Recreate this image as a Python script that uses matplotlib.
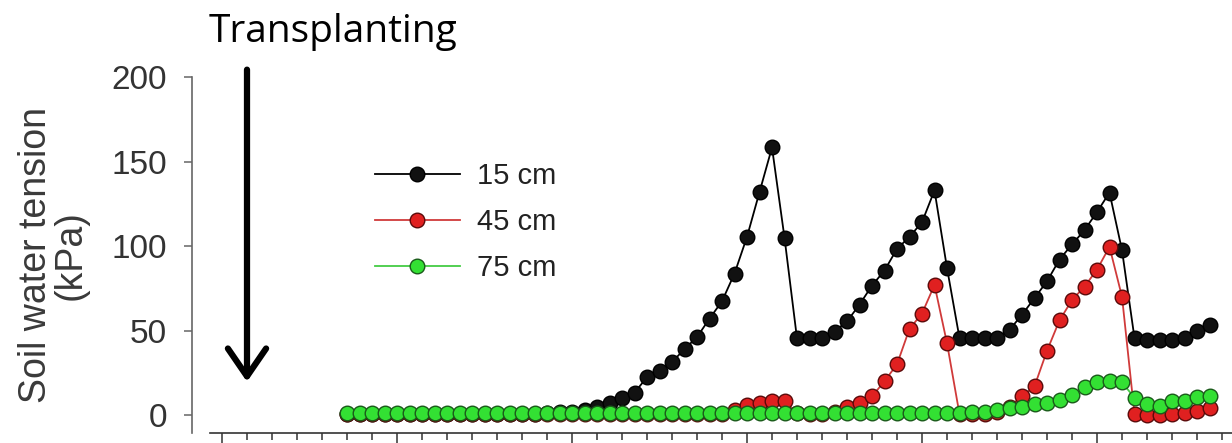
import numpy as np
import matplotlib.pyplot as plt
from matplotlib.ticker import MultipleLocator

# readings every half day, from day 5 to day 39.5
days = np.arange(5, 40, 0.5)

depth_15 = [0.5, 0.5, 0.5, 0.5, 0.5, 0.5, 0.5, 0.5, 0.5, 0.5,
            0.5, 0.5, 0.5, 0.5, 0.5, 0.8, 1, 1.5, 2, 3,
            4.9, 6.9, 9.9, 13.2, 22.4, 26.3, 31.3, 39, 46.1, 57,
            67.3, 83.7, 105.4, 131.9, 158.3, 104.9, 45.3, 45.3, 45.3,
            49.4, 55.4, 65.3, 76.6, 85.5, 98.3, 105.4, 114.1, 132.9, 87,
            45.5, 45.5, 45.5, 45.5, 50.4,
            59.3, 69.2, 79.1, 92, 100.9, 109.4, 120.1, 131.6, 97.5,
            45.5, 44.5, 44.5, 44.5, 45.5, 50, 53.4]

depth_45 = [0.5] * 31 + [
            3, 6, 7, 8.5, 8, 1, 0.5, 0.5, 2, 5,
            7, 11, 20, 30, 51, 60, 77, 42.5, 0.5, 0.5,
            0.5, 2, 5, 11, 17, 38, 56, 68, 76, 86,
            99.5, 70, 0.5, 0, 0, 0.6, 1, 2.6, 4]

depth_75 = [1] * 50 + [
            1.5, 2, 3, 4, 5, 6.5, 7, 9, 11.6, 16.3,
            19.3, 20, 19.3, 10.2, 6.5, 5.4, 8.4, 8.4, 10.7, 11.4]

labels = ['15 cm', '45 cm', '75 cm']

fig = plt.figure(figsize=(12.32, 4.43), dpi=100)
ax = fig.add_axes([210 / 1232, 10 / 443, 1022 / 1232, 356 / 443])

ax.plot(days, depth_15, '-o', color='black', lw=1.3, ms=10.5,
        mfc='#111111', mec='black', mew=1, label=labels[0], zorder=2)
ax.plot(days, depth_45, '-o', color='#d03a3a', lw=1.3, ms=10.5,
        mfc='#e02020', mec='#5a0a0a', mew=1, label=labels[1], zorder=3)
ax.plot(days, depth_75, '-o', color='#44cc44', lw=1.3, ms=10.5,
        mfc='#33e033', mec='#1a5a1a', mew=1, label=labels[2], zorder=4)

ax.set_xlim(-0.48, 40.4)
ax.set_ylim(-10.65, 200)

ax.spines['top'].set_visible(False)
ax.spines['right'].set_visible(False)
ax.spines['left'].set_position(('outward', 13))
ax.spines['left'].set_color('#666666')
ax.spines['left'].set_linewidth(1.2)
ax.spines['bottom'].set_color('#333333')
ax.spines['bottom'].set_linewidth(1.2)

ax.set_yticks([0, 50, 100, 150, 200])
ax.tick_params(axis='y', direction='out', length=6, width=1.1, color='#666666',
               labelsize=24, labelcolor='#333333', pad=12)
ax.tick_params(axis='y', labelfontfamily='Liberation Sans')

ax.xaxis.set_major_locator(MultipleLocator(7))
ax.xaxis.set_minor_locator(MultipleLocator(1))
ax.tick_params(axis='x', which='major', direction='out', length=7, width=1.1,
               color='#333333', labelbottom=False)
ax.tick_params(axis='x', which='minor', direction='out', length=5, width=1.1,
               color='#333333')

ax.set_ylabel('Soil water tension\n(kPa)', fontsize=27, family='Liberation Sans',
              color='#3a3a3a', linespacing=0.95, labelpad=16)

leg = ax.legend(loc='center left', bbox_to_anchor=(0.1614, 0.593), frameon=False,
                borderaxespad=0, borderpad=0, numpoints=1, handlelength=2.9,
                handletextpad=0.6, labelspacing=0.62,
                prop={'family': 'Liberation Sans', 'size': 21})
for t in leg.get_texts():
    t.set_color('#222222')

# transplanting arrow
ax.annotate('', xy=(1, 18), xytext=(1, 206), annotation_clip=False,
            arrowprops=dict(arrowstyle='->,head_width=0.55,head_length=0.8',
                            mutation_scale=25, lw=4.5, color='black'))
fig.text(333 / 1232, (443 - 42) / 443, 'Transplanting', family='Open Sans',
         fontsize=28, ha='center', va='baseline', color='black')

fig.savefig('out.png', dpi=100)
